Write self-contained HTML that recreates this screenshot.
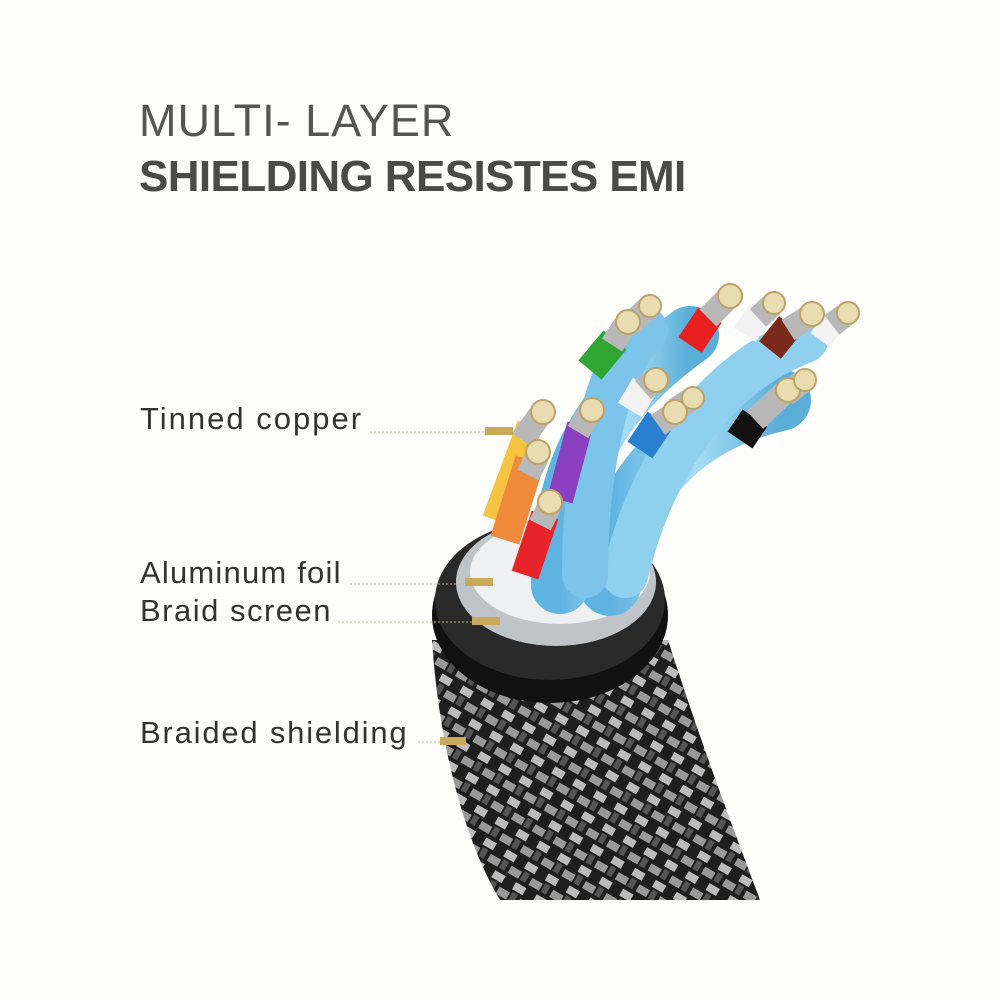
<!DOCTYPE html>
<html><head><style>
body{margin:0;width:1000px;height:1000px;background:#fdfdfb;overflow:hidden;font-family:"Liberation Sans",sans-serif}
.t1{position:absolute;left:139px;top:95px;font-size:45px;color:#555;letter-spacing:1px;font-weight:300}
.t2{position:absolute;left:139px;top:152px;font-size:44px;color:#4a4a4a;font-weight:bold;letter-spacing:-0.6px}
.l{position:absolute;left:140px;font-size:31px;color:#333;letter-spacing:1.3px}
</style></head><body>
<div class="t1">MULTI- LAYER</div>
<div class="t2">SHIELDING RESISTES EMI</div>
<div class="l" style="top:401px;letter-spacing:2px">Tinned copper</div>
<div class="l" style="top:555px;letter-spacing:1.2px">Aluminum foil</div>
<div class="l" style="top:593px;letter-spacing:1.5px">Braid screen</div>
<div class="l" style="top:715px;letter-spacing:1.8px">Braided shielding</div>
<svg width="1000" height="1000" style="position:absolute;left:0;top:0">
<defs>
<pattern id="br" width="24" height="24" patternUnits="userSpaceOnUse" patternTransform="rotate(30)">
<rect width="24" height="24" fill="#1e1e1e"/>
<rect x="0" y="2" width="12" height="8" fill="#bbb"/>
<rect x="12" y="14" width="12" height="8" fill="#999"/>
<rect x="2" y="12" width="6" height="10" fill="#555"/>
</pattern>
<linearGradient id="bl" x1="0" x2="1"><stop offset="0" stop-color="#5fb3e0"/><stop offset=".5" stop-color="#a6ddf5"/><stop offset="1" stop-color="#5aaed8"/></linearGradient>
</defs>
<path d="M432 640 C440 760 470 850 500 900 L760 900 C730 820 700 740 668 640 Z" fill="url(#br)"/>
<ellipse cx="550" cy="615" rx="118" ry="88" fill="#111"/>
<ellipse cx="550" cy="600" rx="115" ry="80" fill="#2a2a2a"/>
<ellipse cx="556" cy="582" rx="100" ry="64" fill="#bfc4c8"/>
<ellipse cx="560" cy="572" rx="90" ry="52" fill="#eef0f1"/>
<g fill="none" stroke-linecap="round">
<path d="M610 585 C620 480 690 420 780 400" stroke="url(#bl)" stroke-width="62"/>
<path d="M560 585 C560 470 600 400 690 335" stroke="url(#bl)" stroke-width="58"/>
<path d="M625 575 C655 450 725 370 805 340" stroke="#8fd0ef" stroke-width="46"/>
<path d="M585 575 C585 460 610 360 645 330" stroke="#7cc4ea" stroke-width="46"/>
</g>
<g stroke-linecap="butt" fill="none">
<path d="M495 520 L530 425" stroke="#f5c542" stroke-width="26"/>
<path d="M505 540 L530 460" stroke="#ef8a3a" stroke-width="30"/>
<path d="M525 575 L545 515" stroke="#e8242a" stroke-width="28"/>
<path d="M560 500 L580 425" stroke="#8a3fc0" stroke-width="26"/>
<path d="M590 370 L615 340" stroke="#2fa534" stroke-width="30"/>
<path d="M690 345 L710 315" stroke="#e8201f" stroke-width="28"/>
<path d="M770 350 L790 325" stroke="#7a2a1a" stroke-width="28"/>
<path d="M640 450 L660 420" stroke="#2a7fd0" stroke-width="30"/>
<path d="M740 440 L755 418" stroke="#111" stroke-width="30"/>
<path d="M630 410 L645 385" stroke="#f2f2f2" stroke-width="28"/>
<path d="M745 335 L760 312" stroke="#f2f2f2" stroke-width="26"/>
<path d="M820 340 L835 320" stroke="#f2f2f2" stroke-width="24"/>
</g>
<g stroke="#b8b8b8" stroke-width="24" fill="none">
<path d="M522 440 L540 415"/><path d="M528 475 L538 455"/><path d="M540 525 L550 505"/>
<path d="M578 432 L590 412"/><path d="M612 345 L625 325"/><path d="M630 325 L648 308"/>
<path d="M708 318 L728 298"/><path d="M758 318 L772 305"/><path d="M788 330 L810 316"/>
<path d="M832 325 L845 315"/><path d="M643 390 L652 382"/><path d="M658 425 L672 415"/>
<path d="M675 410 L690 400"/><path d="M755 420 L785 392"/><path d="M785 395 L802 382"/>
</g>
<g fill="#e8dcb0" stroke="#bba36a" stroke-width="2">
<circle cx="543" cy="412" r="12"/><circle cx="538" cy="452" r="12"/><circle cx="550" cy="502" r="12"/>
<circle cx="592" cy="410" r="12"/><circle cx="628" cy="322" r="12"/><circle cx="650" cy="306" r="11"/>
<circle cx="730" cy="296" r="12"/><circle cx="774" cy="303" r="11"/><circle cx="812" cy="314" r="12"/>
<circle cx="848" cy="313" r="11"/><circle cx="656" cy="380" r="12"/><circle cx="675" cy="412" r="12"/>
<circle cx="693" cy="398" r="11"/><circle cx="788" cy="390" r="12"/><circle cx="805" cy="380" r="11"/>
</g>
<g stroke="#c9b47a" stroke-width="1" stroke-dasharray="2 2">
<line x1="370" y1="432" x2="488" y2="432"/>
<line x1="350" y1="584" x2="465" y2="584"/>
<line x1="338" y1="622" x2="472" y2="622"/>
<line x1="418" y1="742" x2="440" y2="742"/>
</g>
<g fill="#c9a95c">
<rect x="485" y="427" width="28" height="8"/>
<rect x="465" y="578" width="28" height="8"/>
<rect x="472" y="617" width="28" height="8"/>
<rect x="440" y="737" width="26" height="8"/>
</g>
</svg>
</body></html>
